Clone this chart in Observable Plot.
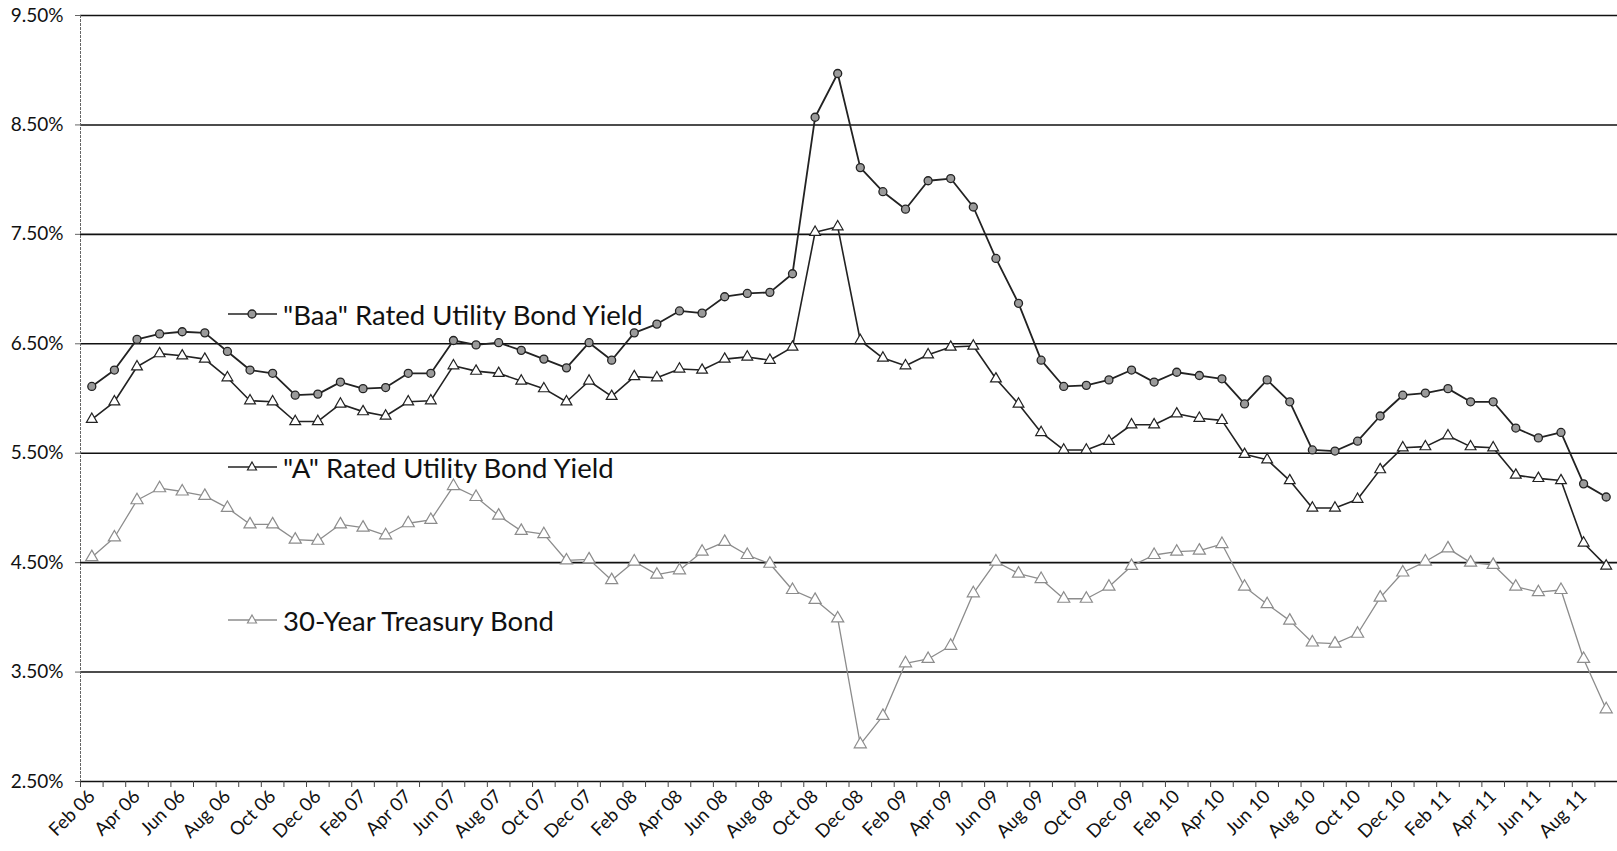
<!DOCTYPE html>
<html>
<head>
<meta charset="utf-8">
<script src="https://cdn.jsdelivr.net/npm/d3@7"></script>
<script src="https://cdn.jsdelivr.net/npm/@observablehq/plot@0.6"></script>
<style>
  html, body { margin: 0; padding: 0; background: #fff; }
  #wrap { position: relative; width: 1617px; height: 851px; overflow: hidden; }
  .leg { position: absolute; display: flex; align-items: center; font-family: Lato, "Open Sans", sans-serif; font-size: 27.5px; color: #111; white-space: nowrap; }
  .leg svg { margin-right: 6px; }
</style>
</head>
<body>
<div id="wrap"></div>
<script>
const months = ["Feb 06","Mar 06","Apr 06","May 06","Jun 06","Jul 06","Aug 06","Sep 06","Oct 06","Nov 06","Dec 06",
  "Jan 07","Feb 07","Mar 07","Apr 07","May 07","Jun 07","Jul 07","Aug 07","Sep 07","Oct 07","Nov 07","Dec 07",
  "Jan 08","Feb 08","Mar 08","Apr 08","May 08","Jun 08","Jul 08","Aug 08","Sep 08","Oct 08","Nov 08","Dec 08",
  "Jan 09","Feb 09","Mar 09","Apr 09","May 09","Jun 09","Jul 09","Aug 09","Sep 09","Oct 09","Nov 09","Dec 09",
  "Jan 10","Feb 10","Mar 10","Apr 10","May 10","Jun 10","Jul 10","Aug 10","Sep 10","Oct 10","Nov 10","Dec 10",
  "Jan 11","Feb 11","Mar 11","Apr 11","May 11","Jun 11","Jul 11","Aug 11","Sep 11"];

const tickLabels = ["Feb 06","Apr 06","Jun 06","Aug 06","Oct 06","Dec 06","Feb 07","Apr 07","Jun 07","Aug 07","Oct 07","Dec 07",
  "Feb 08","Apr 08","Jun 08","Aug 08","Oct 08","Dec 08","Feb 09","Apr 09","Jun 09","Aug 09","Oct 09","Dec 09",
  "Feb 10","Apr 10","Jun 10","Aug 10","Oct 10","Dec 10","Feb 11","Apr 11","Jun 11","Aug 11"];

const yTicks = [2.5, 3.5, 4.5, 5.5, 6.5, 7.5, 8.5, 9.5];

const baa = [6.11,6.26,6.54,6.59,6.61,6.60,6.43,6.26,6.23,6.03,
  6.04,6.15,6.09,6.10,6.23,6.23,6.53,6.49,6.51,6.44,
  6.36,6.28,6.51,6.35,6.60,6.68,6.80,6.78,6.93,6.96,
  6.97,7.14,8.57,8.97,8.11,7.89,7.73,7.99,8.01,7.75,
  7.28,6.87,6.35,6.11,6.12,6.17,6.26,6.15,6.24,6.21,
  6.18,5.95,6.17,5.97,5.53,5.52,5.61,5.84,6.03,6.05,
  6.09,5.97,5.97,5.73,5.64,5.69,5.22,5.10];

const aRated = [5.81,5.97,6.29,6.41,6.39,6.36,6.19,5.98,5.97,5.79,
  5.79,5.95,5.88,5.84,5.97,5.98,6.30,6.25,6.23,6.16,
  6.09,5.97,6.16,6.02,6.20,6.19,6.27,6.26,6.36,6.38,
  6.35,6.47,7.52,7.57,6.53,6.37,6.30,6.40,6.47,6.48,
  6.18,5.95,5.69,5.53,5.53,5.61,5.76,5.76,5.86,5.82,
  5.80,5.49,5.44,5.25,5.00,5.00,5.08,5.35,5.55,5.56,
  5.66,5.56,5.55,5.30,5.27,5.25,4.68,4.47];

const treasury = [4.55,4.73,5.07,5.18,5.15,5.11,5.00,4.85,4.85,4.71,
  4.70,4.85,4.82,4.75,4.86,4.89,5.20,5.10,4.93,4.79,
  4.76,4.52,4.53,4.34,4.51,4.39,4.43,4.60,4.69,4.57,
  4.49,4.25,4.16,3.99,2.84,3.10,3.58,3.62,3.74,4.22,
  4.51,4.40,4.35,4.17,4.17,4.28,4.47,4.57,4.60,4.61,
  4.67,4.28,4.12,3.97,3.77,3.76,3.85,4.18,4.41,4.51,
  4.63,4.50,4.48,4.28,4.23,4.25,3.62,3.16];

const seriesNames = ["\"Baa\" Rated Utility Bond Yield", "\"A\" Rated Utility Bond Yield", "30-Year Treasury Bond"];

const W = 1617, H = 851, ML = 80, MR = 0, MT = 15, MB = 70;
const step = (W - ML - MR) / months.length;

const rows = (vals) => months.map((m, i) => ({month: m, value: vals[i]}));
const baaRows = rows(baa), aRows = rows(aRated), tRows = rows(treasury);

const chart = Plot.plot({
  width: W, height: H,
  marginLeft: ML, marginRight: MR, marginTop: MT, marginBottom: MB,
  style: {fontFamily: "Lato, 'Open Sans', sans-serif", fontSize: "19px", background: "#fff", color: "#111"},
  x: {type: "point", domain: months, padding: 0.5, label: null},
  y: {domain: [2.5, 9.5], label: null},
  marks: [
    Plot.ruleY(yTicks, {stroke: "#111", strokeWidth: 1.6}),
    Plot.ruleX([months[0]], {dx: -step / 2, stroke: "#666", strokeWidth: 1, strokeDasharray: "3,1"}),
    Plot.axisY({ticks: yTicks, tickFormat: d => d.toFixed(2) + "%", tickSize: 5, tickPadding: 12, fontSize: 19, stroke: "#666"}),
    Plot.axisX({ticks: months, tickSize: 6, tickFormat: () => "", dx: -step / 2, stroke: "#444"}),
    Plot.axisX({ticks: tickLabels, tickSize: 0, tickPadding: 12, tickRotate: -45, fontSize: 18.5}),
    // 30-year treasury
    Plot.lineY(tRows, {x: "month", y: "value", stroke: "#8c8c8c", strokeWidth: 1.3}),
    Plot.dot(tRows, {x: "month", y: "value", symbol: "triangle", r: 4.5, fill: "#fff", stroke: "#8c8c8c", strokeWidth: 1.2}),
    // A rated
    Plot.lineY(aRows, {x: "month", y: "value", stroke: "#222", strokeWidth: 1.6}),
    Plot.dot(aRows, {x: "month", y: "value", symbol: "triangle", r: 4, fill: "#fff", stroke: "#222", strokeWidth: 1.2}),
    // Baa rated
    Plot.lineY(baaRows, {x: "month", y: "value", stroke: "#222", strokeWidth: 1.8}),
    Plot.dot(baaRows, {x: "month", y: "value", symbol: "circle", r: 4, fill: "#9a9a9a", stroke: "#222", strokeWidth: 1.3})
  ]
});

const wrap = document.getElementById("wrap");
wrap.appendChild(chart);

// Legend (inline, inside the plot area)
const legendDefs = [
  {name: seriesNames[0], top: 314, stroke: "#222", marker: "circle", mfill: "#9a9a9a"},
  {name: seriesNames[1], top: 467, stroke: "#222", marker: "triangle", mfill: "#fff"},
  {name: seriesNames[2], top: 620, stroke: "#8c8c8c", marker: "triangle", mfill: "#fff"}
];
legendDefs.forEach(l => {
  const div = document.createElement("div");
  div.className = "leg";
  div.style.left = "228px";
  div.style.top = (l.top - 18) + "px";
  div.style.height = "36px";
  const sym = l.marker === "circle"
    ? `<circle cx="24" cy="8" r="4" fill="${l.mfill}" stroke="#222" stroke-width="1.3"/>`
    : `<path d="M24,3 L28.5,11 L19.5,11 Z" fill="${l.mfill}" stroke="${l.stroke}" stroke-width="1.2"/>`;
  div.innerHTML = `<svg width="49" height="16"><line x1="0" y1="8" x2="49" y2="8" stroke="${l.stroke}" stroke-width="1.6"/>${sym}</svg><span>${l.name}</span>`;
  wrap.appendChild(div);
});
</script>
</body>
</html>
